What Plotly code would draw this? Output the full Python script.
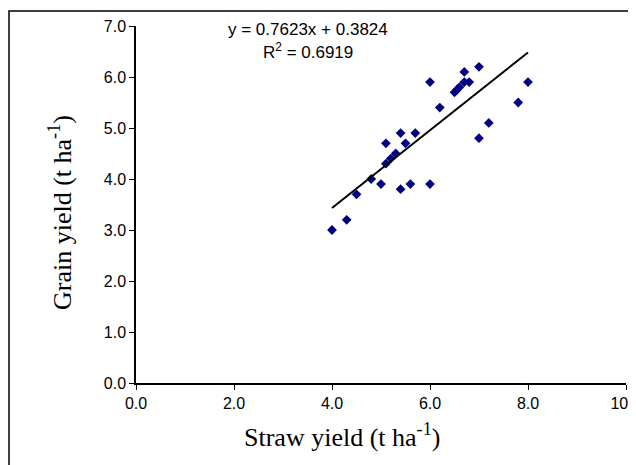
import plotly.graph_objects as go

straw = [4.0, 4.3, 4.5, 4.8, 5.0, 5.1, 5.1, 5.2, 5.3, 5.4, 5.4, 5.5, 5.6, 5.7,
         6.0, 6.0, 6.2, 6.5, 6.55, 6.6, 6.7, 6.7, 6.8, 7.0, 7.0, 7.2, 7.8, 8.0]
grain = [3.0, 3.2, 3.7, 4.0, 3.9, 4.7, 4.3, 4.4, 4.5, 4.9, 3.8, 4.7, 3.9, 4.9,
         5.9, 3.9, 5.4, 5.7, 5.75, 5.8, 6.1, 5.9, 5.9, 6.2, 4.8, 5.1, 5.5, 5.9]

slope = 0.7623
intercept = 0.3824
r2 = 0.6919
fit_x = [4.0, 8.0]
fit_y = [slope * v + intercept for v in fit_x]

x_ticks = [0, 2, 4, 6, 8, 10]
y_ticks = [0, 1, 2, 3, 4, 5, 6, 7]

# page has an 8px body margin; size figure to fit the 636x465 window
OFF = 8
W, H = 636 - OFF, 465 - OFF
ml, mr, mt, mb = 128, 10, 18, 82
pw, ph = W - ml - mr, H - mt - mb


def px(X):
    return (X - OFF - ml) / pw


def py(Y):
    return (H - mb - (Y - OFF)) / ph


fig = go.Figure()
fig.add_trace(go.Scatter(x=straw, y=grain, mode="markers",
                         marker=dict(symbol="diamond", size=7.5, color="#000080",
                                     line=dict(width=0)),
                         showlegend=False, cliponaxis=False))
fig.add_trace(go.Scatter(x=fit_x, y=fit_y, mode="lines",
                         line=dict(color="black", width=2),
                         showlegend=False))

fig.add_shape(type="rect", xref="paper", yref="paper",
              x0=px(9), x1=px(700), y0=py(520), y1=py(11),
              line=dict(color="black", width=1.5), fillcolor="rgba(0,0,0,0)")

ann_font = dict(family="Liberation Sans, Arial", size=17, color="black")
fig.add_annotation(xref="paper", yref="paper", x=px(308), y=py(30),
                   xanchor="center", yanchor="middle",
                   text=f"y = {slope}x + {intercept}", showarrow=False,
                   font=ann_font)
fig.add_annotation(xref="paper", yref="paper", x=px(308), y=py(51),
                   xanchor="center", yanchor="middle",
                   text=f"R<sup>2</sup> = {r2}", showarrow=False,
                   font=ann_font)

title_font = dict(family="Liberation Serif, Times New Roman", size=26, color="black")
fig.add_annotation(xref="paper", yref="paper", x=px(342), y=py(436),
                   xanchor="center", yanchor="middle",
                   text="Straw yield (t ha<sup>-1</sup>)", showarrow=False,
                   font=title_font)
fig.add_annotation(xref="paper", yref="paper", x=px(60), y=py(213),
                   xanchor="center", yanchor="middle",
                   text="Grain yield (t ha<sup>-1</sup>)", showarrow=False,
                   textangle=-90, font=title_font)

axis_common = dict(showgrid=False, zeroline=False, showline=True, linecolor="black",
                   linewidth=1.5, ticks="outside", ticklen=5, tickcolor="black",
                   tickwidth=1.2,
                   tickfont=dict(family="Liberation Sans, Arial", size=16, color="black"),
                   ticklabeloverflow="allow")

fig.update_layout(
    width=W, height=H,
    margin=dict(l=ml, r=mr, t=mt, b=mb, autoexpand=False),
    paper_bgcolor="white", plot_bgcolor="white",
    font=dict(family="Liberation Sans, Arial", size=16, color="black"),
    xaxis=dict(range=[0, 10], tickvals=x_ticks,
               ticktext=[f"{v:.1f}" for v in x_ticks], **axis_common),
    yaxis=dict(range=[0, 7], tickvals=y_ticks,
               ticktext=[f"{v:.1f}" for v in y_ticks], **axis_common),
)

fig.write_html("out.html")
